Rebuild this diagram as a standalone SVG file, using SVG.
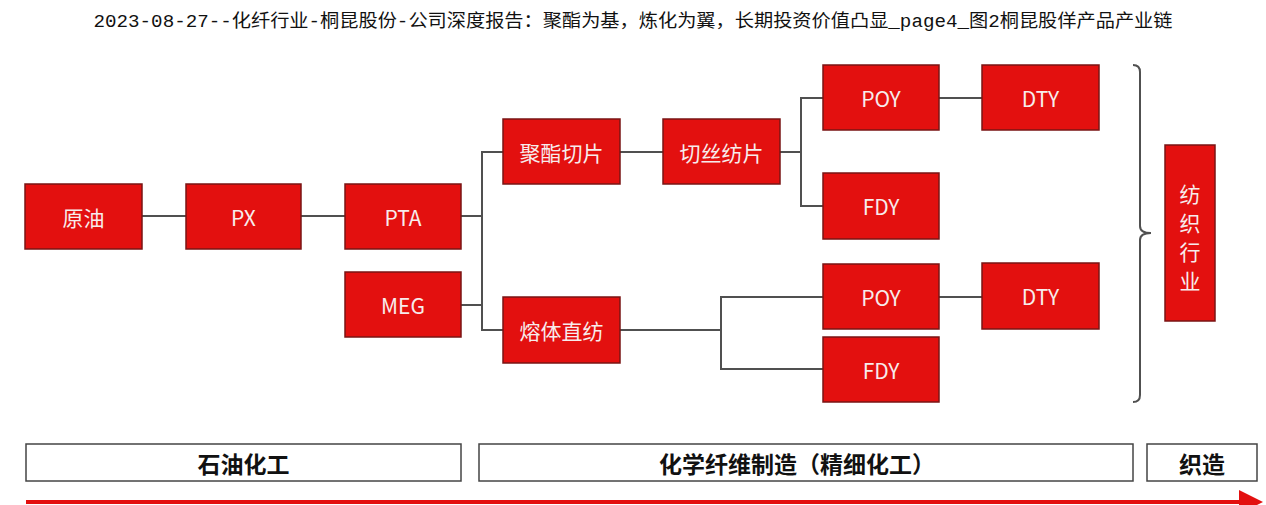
<svg xmlns="http://www.w3.org/2000/svg" width="1266" height="505" viewBox="0 0 1266 505">
<style>
.title{font-family:"Liberation Mono","Noto Sans CJK SC",monospace;font-size:18px;fill:#111}
.box{fill:#E3100F;stroke:#7A1414;stroke-width:1.5}
.bt{font-family:"Noto Sans CJK SC","Open Sans",sans-serif;font-size:21px;fill:#F7ECEC;text-anchor:middle;dominant-baseline:central}
.conn{fill:none;stroke:#505050;stroke-width:2}
.stage{fill:#fff;stroke:#444;stroke-width:1.5}
.st{font-family:"Noto Sans CJK SC",sans-serif;font-size:23px;font-weight:bold;fill:#111;text-anchor:middle;dominant-baseline:central}
</style>
<defs>
<marker id="ah" markerWidth="6" markerHeight="6" refX="1" refY="3" orient="auto" markerUnits="strokeWidth">
<path d="M0,0 L6,3 L0,6 z" fill="#E3100F"/>
</marker>
</defs>
<rect width="1266" height="505" fill="#fff"/>
<text class="title" x="633" y="27" text-anchor="middle" textLength="1079" lengthAdjust="spacingAndGlyphs">2023-08-27--化纤行业-桐昆股份-公司深度报告：聚酯为基，炼化为翼，长期投资价值凸显_page4_图2桐昆股佯产品产业链</text>

<g id="connectors">
<path class="conn" d="M142,216 H186"/>
<path class="conn" d="M301,216 H345"/>
<path class="conn" d="M461,216 H482"/>
<path class="conn" d="M461,305 H482"/>
<path class="conn" d="M503,152 H482 V330 H503"/>
<path class="conn" d="M620,152 H663"/>
<path class="conn" d="M780,152 H801"/>
<path class="conn" d="M823,98 H801 V206 H823"/>
<path class="conn" d="M939,98 H982"/>
<path class="conn" d="M620,330 H721"/>
<path class="conn" d="M823,297 H721 V369 H823"/>
<path class="conn" d="M939,297 H982"/>
<path class="conn" d="M1133,65 Q1140,65 1140,72 V226 Q1140,233 1151,233 Q1140,233 1140,240 V395 Q1140,402 1133,402"/>
</g>

<g id="n-crude"><rect class="box" x="25" y="184" width="117" height="65"/><text class="bt" x="83.5" y="216.5">原油</text></g>
<g id="n-px"><rect class="box" x="186" y="184" width="115" height="65"/><text class="bt" x="243.5" y="216.5">PX</text></g>
<g id="n-pta"><rect class="box" x="345" y="184" width="116" height="65"/><text class="bt" x="403" y="216.5">PTA</text></g>
<g id="n-meg"><rect class="box" x="345" y="272" width="116" height="65"/><text class="bt" x="403" y="304.5">MEG</text></g>
<g id="n-chip"><rect class="box" x="503" y="119" width="117" height="65"/><text class="bt" x="561.5" y="151.5">聚酯切片</text></g>
<g id="n-spin"><rect class="box" x="663" y="119" width="117" height="65"/><text class="bt" x="721.5" y="151.5">切丝纺片</text></g>
<g id="n-poy1"><rect class="box" x="823" y="65" width="116" height="65"/><text class="bt" x="881" y="97.5">POY</text></g>
<g id="n-fdy1"><rect class="box" x="823" y="173" width="116" height="66"/><text class="bt" x="881" y="206">FDY</text></g>
<g id="n-dty1"><rect class="box" x="982" y="65" width="117" height="65"/><text class="bt" x="1040.5" y="97.5">DTY</text></g>
<g id="n-melt"><rect class="box" x="503" y="297" width="117" height="66"/><text class="bt" x="561.5" y="330">熔体直纺</text></g>
<g id="n-poy2"><rect class="box" x="823" y="264" width="116" height="65"/><text class="bt" x="881" y="296.5">POY</text></g>
<g id="n-fdy2"><rect class="box" x="823" y="337" width="116" height="65"/><text class="bt" x="881" y="369.5">FDY</text></g>
<g id="n-dty2"><rect class="box" x="982" y="263" width="117" height="66"/><text class="bt" x="1040.5" y="296">DTY</text></g>
<g id="n-textile"><rect class="box" x="1165" y="145" width="50" height="176"/>
<text class="bt" x="1190" y="193">纺</text><text class="bt" x="1190" y="222">织</text><text class="bt" x="1190" y="251">行</text><text class="bt" x="1190" y="280">业</text></g>

<g id="stage-petro"><rect class="stage" x="26" y="444" width="435" height="37"/><text class="st" x="243.5" y="462.5">石油化工</text></g>
<g id="stage-fiber"><rect class="stage" x="479" y="444" width="654" height="37"/><text class="st" x="797" y="462.5">化学纤维制造（精细化工）</text></g>
<g id="stage-weave"><rect class="stage" x="1147" y="444" width="110" height="37"/><text class="st" x="1202" y="462.5">织造</text></g>

<g id="arrow">
<line x1="26" y1="502" x2="1243" y2="502" stroke="#E3100F" stroke-width="4" marker-end="url(#ah)"/>
</g>
</svg>
